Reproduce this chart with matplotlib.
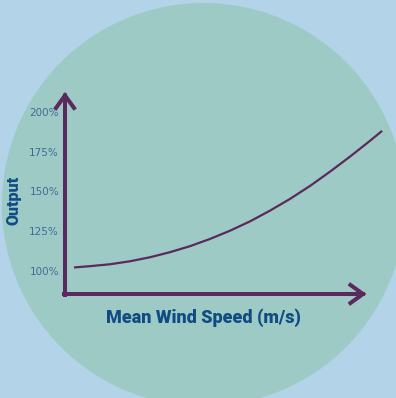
import matplotlib
matplotlib.use("Agg")
import matplotlib.pyplot as plt
from matplotlib.patches import Ellipse, FancyArrowPatch
from matplotlib.ticker import FuncFormatter

# values
wind_speed = [0.3, 0.83, 1.5, 2.17, 2.83, 3.5, 4.17, 4.83, 5.5, 6.17,
              6.83, 7.5, 8.17, 8.83, 9.5, 10.17, 10.57]
output_pct = [102.2, 103.0, 104.2, 106.1, 108.6, 111.8, 115.6, 120.1, 125.3,
              131.2, 137.9, 145.3, 153.5, 162.4, 171.9, 181.9, 188.1]
y_ticks = [100, 125, 150, 175, 200]

BG = "#b3d4e8"
CIRCLE = "#9ecac6"
PURPLE = "#5b2a5d"
TICK_COLOR = "#3f6c95"
LABEL_COLOR = "#0f4c84"

W, H = 396, 398
fig = plt.figure(figsize=(W / 100, H / 100), dpi=100)
fig.patch.set_facecolor(BG)

# big teal disc behind everything
circle = Ellipse((203.5 / W, 1 - 204.6 / H), 2 * 201.6 / W, 2 * 201.6 / H,
                 transform=fig.transFigure, facecolor=CIRCLE, edgecolor="none", zorder=0)
fig.add_artist(circle)

# axes box in pixels: x 65..383, y 90..294 (from top)
ax = fig.add_axes([65 / W, (H - 294) / H, (383 - 65) / W, (294 - 90) / H])
ax.set_facecolor("none")
ax.set_xlim(0, 10.6)
ax.set_ylim(85.5, 213.8)
for s in ax.spines.values():
    s.set_visible(False)

ax.plot(wind_speed, output_pct, color=PURPLE, lw=1.6, clip_on=False,
        solid_capstyle="butt", solid_joinstyle="round", zorder=3)

ax.set_xticks([])
ax.set_yticks(y_ticks)
ax.yaxis.set_major_formatter(FuncFormatter(lambda v, p: f"{v:.0f}%"))
ax.tick_params(axis="y", length=0, pad=4.3, labelsize=7.5, labelcolor=TICK_COLOR)

# axis arrows
arrow_kw = dict(arrowstyle="->,head_length=0.9,head_width=0.65", mutation_scale=10,
                color=PURPLE, lw=2.9, shrinkA=0, shrinkB=0, transform=ax.transAxes,
                clip_on=False, zorder=4, joinstyle="miter", capstyle="projecting")
x_end = (368 - 65) / (383 - 65)
ax.add_patch(FancyArrowPatch((0, -0.005), (0, 0.99), **arrow_kw))
ax.add_patch(FancyArrowPatch((-0.003, 0), (x_end - 0.005, 0), **arrow_kw))

fig.text(203 / W, 1 - 318 / H, "Mean Wind Speed (m/s)", ha="center", va="center",
         fontsize=13, fontweight="black", family="Roboto", color=LABEL_COLOR)
fig.text(13 / W, 1 - 200 / H, "Output", ha="center", va="center", rotation=90,
         fontsize=11.5, fontweight="black", family="Roboto", color=LABEL_COLOR)

fig.savefig("out.png", dpi=100, facecolor=BG)
